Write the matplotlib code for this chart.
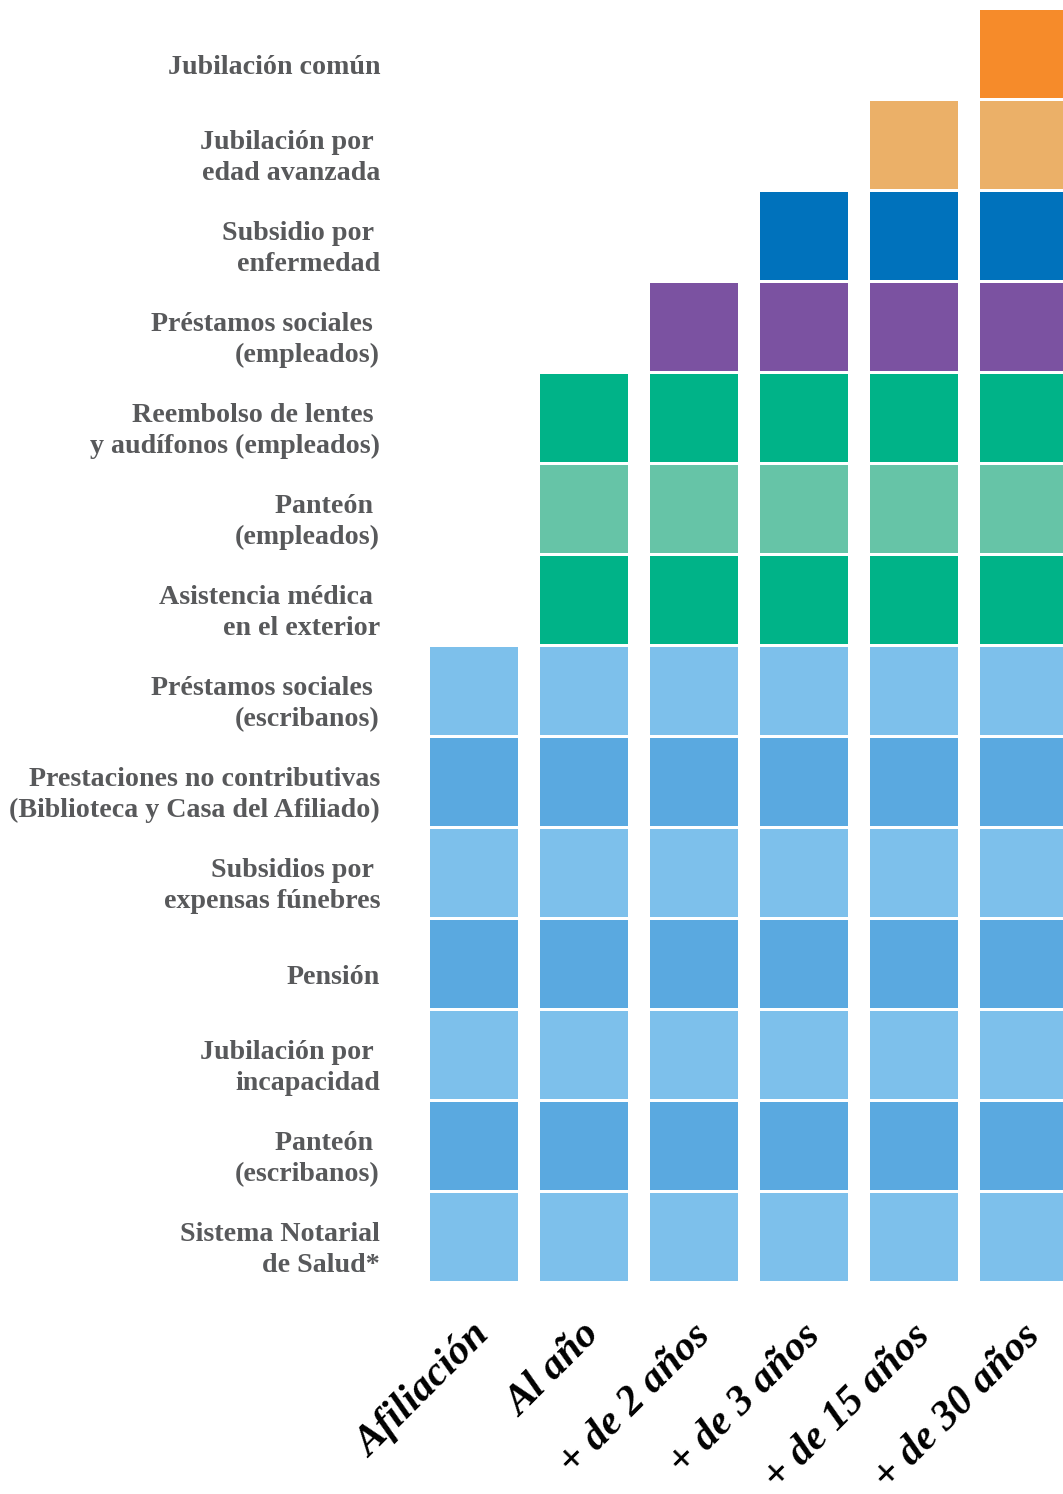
import matplotlib.pyplot as plt
import matplotlib.transforms as mtransforms

# etapas (columnas) y prestaciones (filas, de arriba hacia abajo)
etapas = ['Afiliación', 'Al año', '+ de 2 años', '+ de 3 años', '+ de 15 años', '+ de 30 años']
prestaciones = [
    'Jubilación común',
    'Jubilación por \nedad avanzada',
    'Subsidio por \nenfermedad',
    'Préstamos sociales \n(empleados)',
    'Reembolso de lentes \ny audífonos (empleados)',
    'Panteón \n(empleados)',
    'Asistencia médica \nen el exterior',
    'Préstamos sociales \n(escribanos)',
    'Prestaciones no contributivas\n(Biblioteca y Casa del Afiliado)',
    'Subsidios por \nexpensas fúnebres',
    'Pensión',
    'Jubilación por \nincapacidad',
    'Panteón \n(escribanos)',
    'Sistema Notarial\nde Salud*',
]
# primera etapa en la que se accede a cada prestación
desde = [5, 4, 3, 2, 1, 1, 1, 0, 0, 0, 0, 0, 0, 0]
colores = ['#F68B2A', '#EBB068', '#0072BC', '#7B52A1', '#00B388', '#66C4A7', '#00B388',
           '#7DC0EB', '#5AA9E0', '#7DC0EB', '#5AA9E0', '#7DC0EB', '#5AA9E0', '#7DC0EB']

W, H = 1063, 1494
fig = plt.figure(figsize=(W / 100, H / 100), dpi=100)
# ejes: columna = 110 px, fila = 91 px
ax = fig.add_axes([419 / W, 1 - 1282.5 / H, 644 / W, 1274 / H])
ax.set_xlim(-0.5, (1063 - 474) / 110)
ax.set_ylim(len(prestaciones) - 0.5, -0.5)
ax.axis('off')

for fila, (inicio, color) in enumerate(zip(desde, colores)):
    cols = list(range(inicio, len(etapas)))
    ax.bar(cols, 88 / 91, bottom=fila - 0.5 * 88 / 91, width=0.8, color=color, linewidth=0)

# etiquetas de filas
off_y = mtransforms.ScaledTranslation(-0.39, -0.13, fig.dpi_scale_trans)
for fila, txt in enumerate(prestaciones):
    ax.text(0, fila, txt, transform=ax.get_yaxis_transform() + off_y,
            ha='right', va='center', multialignment='right', linespacing=1.28,
            family='Liberation Serif', fontweight='bold', fontsize=20.2, color='#58595B')

# etiquetas de columnas, giradas
off_x = mtransforms.ScaledTranslation(-0.03, -0.34, fig.dpi_scale_trans)
for col, txt in enumerate(etapas):
    ax.text(col, 0, txt, transform=ax.get_xaxis_transform() + off_x,
            rotation=45, rotation_mode='anchor', ha='right', va='top',
            family='Liberation Serif', fontweight='bold', fontstyle='italic',
            fontsize=30, color='black')

fig.savefig('out.png', dpi=100)
